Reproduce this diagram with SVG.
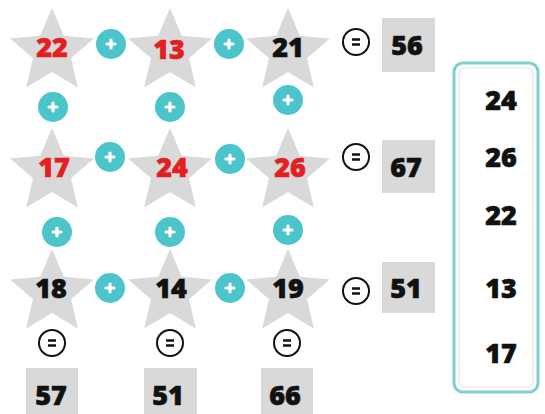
<svg xmlns="http://www.w3.org/2000/svg" xmlns:xlink="http://www.w3.org/1999/xlink" width="545" height="414" viewBox="0 0 545 414">
<style>
.num{font-family:"Open Sans","Noto Sans","Liberation Sans",sans-serif;font-weight:800;font-size:27px;text-anchor:middle;fill:#111;stroke:#111;stroke-width:0.6}
.red{fill:#e41e22;stroke:#e41e22}
.star{fill:#d9d9d9}
.box{fill:#d9d9d9}
.plusc{fill:#4cc4cc}
.plus{stroke:#fff;stroke-width:3.2;stroke-linecap:round}
.eqc{fill:#fff;stroke:#111;stroke-width:2}
.eq{stroke:#111;stroke-width:2.4}
</style>
<defs>
<path id="star" class="star" d="M0,-44 L11.76,-16.18 L41.85,-13.6 L19.02,6.18 L25.86,35.6 L0,20 L-25.86,35.6 L-19.02,6.18 L-41.85,-13.6 L-11.76,-16.18 Z"/>
<g id="plus"><circle class="plusc" r="15"/><path class="plus" d="M-4,0H4M0,-4V4"/></g>
<g id="eq"><circle class="eqc" r="13"/><path class="eq" d="M-4,-2.5H4M-4,2.5H4"/></g>
</defs>
<g id="connectors">
<use href="#plus" x="111" y="44"/>
<use href="#plus" x="229" y="44"/>
<use href="#plus" x="53" y="107"/>
<use href="#plus" x="170" y="107"/>
<use href="#plus" x="288" y="100"/>
<use href="#plus" x="110" y="157"/>
<use href="#plus" x="230" y="159"/>
<use href="#plus" x="57" y="232"/>
<use href="#plus" x="170" y="232"/>
<use href="#plus" x="288" y="230"/>
<use href="#plus" x="110" y="288"/>
<use href="#plus" x="230" y="288"/>
<use href="#eq" x="356" y="42"/>
<use href="#eq" x="356" y="157"/>
<use href="#eq" x="356" y="291"/>
<use href="#eq" x="52" y="343"/>
<use href="#eq" x="170" y="343"/>
<use href="#eq" x="287" y="343"/>
</g>
<g id="s11"><use href="#star" x="52" y="52"/><text class="num red" x="52" y="57">22</text></g>
<g id="s12"><use href="#star" x="170" y="52"/><text class="num red" x="169" y="59">13</text></g>
<g id="s13"><use href="#star" x="288" y="52"/><text class="num" x="288" y="57">21</text></g>
<g id="s21"><use href="#star" x="52" y="172"/><text class="num red" x="54" y="177">17</text></g>
<g id="s22"><use href="#star" x="170" y="172"/><text class="num red" x="172" y="177">24</text></g>
<g id="s23"><use href="#star" x="288" y="172"/><text class="num red" x="290" y="177">26</text></g>
<g id="s31"><use href="#star" x="52" y="293"/><text class="num" x="51" y="298">18</text></g>
<g id="s32"><use href="#star" x="170" y="293"/><text class="num" x="171" y="298">14</text></g>
<g id="s33"><use href="#star" x="288" y="293"/><text class="num" x="288" y="298">19</text></g>
<g id="r1"><rect class="box" x="382" y="18" width="53" height="54"/><text class="num" x="407" y="55">56</text></g>
<g id="r2"><rect class="box" x="382" y="140" width="53" height="53"/><text class="num" x="406" y="177">67</text></g>
<g id="r3"><rect class="box" x="382" y="262" width="53" height="51"/><text class="num" x="406" y="298">51</text></g>
<g id="c1"><rect class="box" x="26" y="368" width="52" height="46"/><text class="num" x="51" y="405">57</text></g>
<g id="c2"><rect class="box" x="144" y="368" width="53" height="46"/><text class="num" x="168" y="405">51</text></g>
<g id="c3"><rect class="box" x="261" y="368" width="52" height="46"/><text class="num" x="285" y="405">66</text></g>
<g id="panel">
<rect x="454" y="63" width="84" height="329" rx="9" fill="#fff" stroke="#7fcfd3" stroke-width="3"/>
<rect x="459" y="68" width="74" height="319" rx="6" fill="#fff" stroke="#e2e6e6" stroke-width="1.2"/>
<text class="num" x="501" y="110">24</text>
<text class="num" x="501" y="167">26</text>
<text class="num" x="501" y="225">22</text>
<text class="num" x="501" y="298">13</text>
<text class="num" x="501" y="363">17</text>
</g>
</svg>
